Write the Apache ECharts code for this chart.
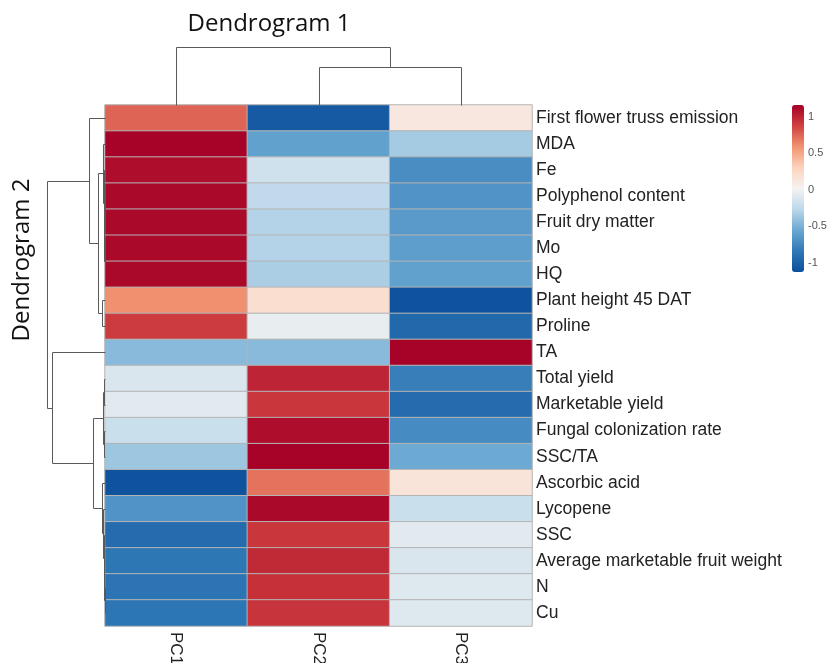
<!DOCTYPE html>
<html>
<head>
<meta charset="utf-8">
<script src="https://cdn.jsdelivr.net/npm/echarts@6/dist/echarts.min.js"></script>
<style>html,body{margin:0;padding:0;background:#fff;}#chart{width:829px;height:663px;}</style>
</head>
<body>
<div id="chart"></div>
<script>
// ---- data ----
const columns = ['PC1', 'PC2', 'PC3'];
const rows = ['First flower truss emission', 'MDA', 'Fe', 'Polyphenol content', 'Fruit dry matter', 'Mo', 'HQ',
  'Plant height 45 DAT', 'Proline', 'TA', 'Total yield', 'Marketable yield', 'Fungal colonization rate', 'SSC/TA',
  'Ascorbic acid', 'Lycopene', 'SSC', 'Average marketable fruit weight', 'N', 'Cu'];
const pc1 = [0.75, 1.15, 1.1, 1.12, 1.12, 1.12, 1.12, 0.6, 0.9, -0.45, -0.12, -0.08, -0.2, -0.38, -1.1, -0.68, -0.93, -0.85, -0.87, -0.86];
const pc2 = [-1.05, -0.6, -0.18, -0.25, -0.3, -0.3, -0.33, 0.2, -0.05, -0.45, 1.0, 0.92, 1.1, 1.15, 0.7, 1.12, 0.92, 0.98, 0.95, 0.93];
const pc3 = [0.12, -0.35, -0.72, -0.68, -0.64, -0.62, -0.6, -1.1, -0.95, 1.15, -0.8, -0.93, -0.73, -0.55, 0.15, -0.2, -0.08, -0.12, -0.1, -0.1];
const colorTicks = [-1, -0.5, 0, 0.5, 1];
// dendrogram trees: [height, left, right]; leaves are indices
const colTree = [58, 0, [38, 1, 2]];
const rowTree = [58.5,
  [16, 0, [7.5, [2, 1, [1.2, 2, [0.8, [0.4, 3, 4], [0.4, 5, 6]]]], [3, 7, 8]]],
  [53.5, 9, [12, [2, [0.8, 10, 11], [0.8, 12, 13]], [3, 14, [2, 15, [1.2, 16, [0.8, 17, [0.4, 18, 19]]]]]]]];

// ---- build ----
const heatData = [];
[pc1, pc2, pc3].forEach((arr, c) => arr.forEach((v, r) => heatData.push([c, r, v])));

function segments(tree) {
  const segs = [];
  function lay(node) {
    if (typeof node === 'number') return { pos: node, h: 0 };
    const [h, a, b] = node;
    const A = lay(a), B = lay(b);
    segs.push([A.pos, h, B.pos, h]);
    segs.push([A.pos, A.h, A.pos, h]);
    segs.push([B.pos, B.h, B.pos, h]);
    return { pos: (A.pos + B.pos) / 2, h: h };
  }
  lay(tree);
  return segs;
}
const colSegs = segments(colTree);                       // [pos,h,pos,h]
const rowSegs = segments(rowTree).map(s => [s[1], s[0], s[3], s[2]]); // [h,pos,h,pos]

function renderSeg(params, api) {
  const p1 = api.coord([api.value(0), api.value(1)]);
  const p2 = api.coord([api.value(2), api.value(3)]);
  const r = v => Math.round(v) + 0.5;
  return { type: 'line', shape: { x1: r(p1[0]), y1: r(p1[1]), x2: r(p2[0]), y2: r(p2[1]) },
    style: { stroke: '#5a5a5a', lineWidth: 1 } };
}

const HM = { left: 105, top: 105, width: 427, height: 521 };
const vmin = -1.13, vmax = 1.16;
const hidden = { show: false };

const chart = echarts.init(document.getElementById('chart'));
chart.setOption({
  animation: false,
  backgroundColor: '#fff',
  grid: [
    { left: HM.left, top: HM.top, width: HM.width, height: HM.height, outerBoundsMode: 'none', containLabel: false },
    { left: HM.left, top: 40, width: HM.width, height: 65, outerBoundsMode: 'none' },
    { left: 40, top: HM.top, width: 65, height: HM.height, outerBoundsMode: 'none' },
    { left: 792, top: 105, width: 12, height: 167, outerBoundsMode: 'none' }
  ],
  xAxis: [
    { gridIndex: 0, type: 'category', data: columns, position: 'bottom',
      axisLine: hidden, axisTick: hidden, splitLine: hidden,
      axisLabel: { rotate: -90, margin: 6, fontSize: 17, color: '#222', fontFamily: 'Liberation Sans' } },
    { gridIndex: 1, type: 'value', min: -0.5, max: 2.5, show: false },
    { gridIndex: 2, type: 'value', min: 0, max: 65, inverse: true, show: false },
    { gridIndex: 3, type: 'value', min: 0, max: 1, show: false }
  ],
  yAxis: [
    { gridIndex: 0, type: 'category', data: rows, inverse: true, position: 'right',
      axisLine: hidden, axisTick: hidden, splitLine: hidden,
      axisLabel: { margin: 4, fontSize: 17.5, color: '#222', fontFamily: 'Liberation Sans' } },
    { gridIndex: 1, type: 'value', min: 0, max: 65, show: false },
    { gridIndex: 2, type: 'value', min: -0.5, max: 19.5, inverse: true, show: false },
    { gridIndex: 3, type: 'value', min: vmin, max: vmax, position: 'right',
      axisLine: hidden, axisTick: hidden, splitLine: hidden,
      axisLabel: { customValues: colorTicks, margin: 4, fontSize: 11, color: '#555', fontFamily: 'Liberation Sans' } }
  ],
  visualMap: {
    type: 'continuous', seriesIndex: 0, min: vmin, max: vmax, calculable: false,
    orient: 'vertical', left: 792, top: 105, itemWidth: 12, itemHeight: 167, padding: 0,
    inRange: { color: ['#0b4f9c', '#2f78b6', '#6aa8d2', '#bcd8ea', '#f5f3f2', '#fcd3bc', '#f19470', '#d04140', '#a50026'] }
  },
  graphic: [
    { type: 'text', x: 269, y: 24, style: { text: 'Dendrogram 1', font: '24px "Open Sans"', fill: '#111', textAlign: 'center', textVerticalAlign: 'middle' } },
    { type: 'text', x: 22, y: 260, rotation: Math.PI / 2, style: { text: 'Dendrogram 2', font: '24px "Open Sans"', fill: '#111', textAlign: 'center', textVerticalAlign: 'middle' } }
  ],
  series: [
    { type: 'heatmap', xAxisIndex: 0, yAxisIndex: 0, data: heatData,
      itemStyle: { borderColor: '#b4b4b4', borderWidth: 1 } },
    { type: 'custom', xAxisIndex: 1, yAxisIndex: 1, data: colSegs, renderItem: renderSeg, clip: false, silent: true },
    { type: 'custom', xAxisIndex: 2, yAxisIndex: 2, data: rowSegs, renderItem: renderSeg, clip: false, silent: true }
  ]
});
</script>
</body>
</html>
